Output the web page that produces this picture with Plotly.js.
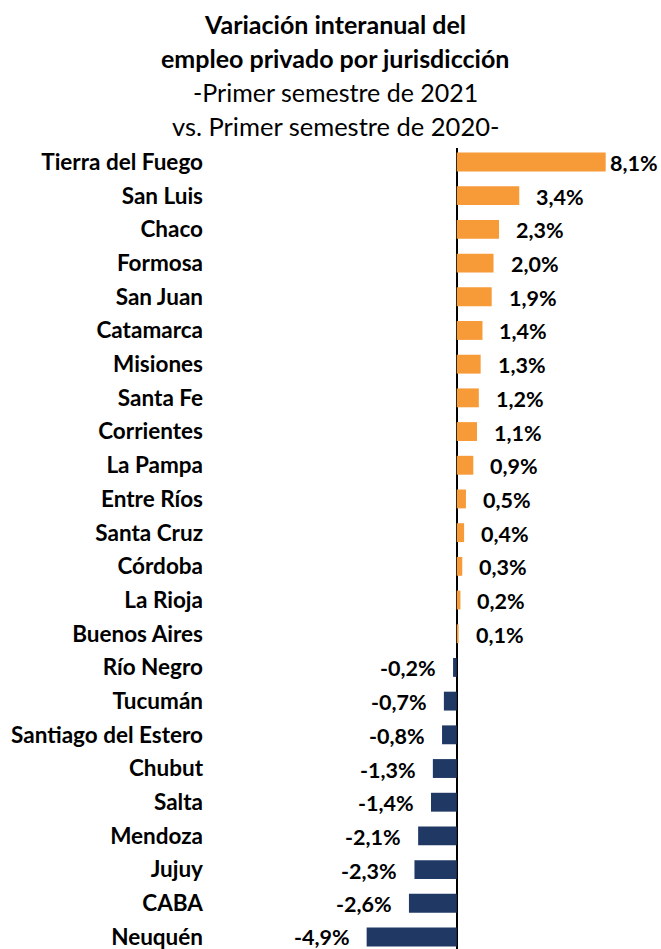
<!DOCTYPE html>
<html><head><meta charset="utf-8">
<script src="https://cdn.plot.ly/plotly-3.0.1.min.js"></script>
<style>body{margin:0;background:#fff}#c{width:661px;height:949px}</style>
</head><body><div id="c"></div>
<script>
const categories = ["Tierra del Fuego","San Luis","Chaco","Formosa","San Juan","Catamarca","Misiones","Santa Fe","Corrientes","La Pampa","Entre Ríos","Santa Cruz","Córdoba","La Rioja","Buenos Aires","Río Negro","Tucumán","Santiago del Estero","Chubut","Salta","Mendoza","Jujuy","CABA","Neuquén"];
const values = [8.1,3.4,2.3,2.0,1.9,1.4,1.3,1.2,1.1,0.9,0.5,0.4,0.3,0.2,0.1,-0.2,-0.7,-0.8,-1.3,-1.4,-2.1,-2.3,-2.6,-4.9];
const titleLines = ["<b>Variación interanual del</b>","<b>empleo privado por jurisdicción</b>","-Primer semestre de 2021","vs. Primer semestre de 2020-"];

const FONT = "Lato, 'Open Sans', sans-serif";
const fmt = v => v.toFixed(1).replace('.', ',') + '%';
const colors = values.map(v => v >= 0 ? '#F79A38' : '#203864');

const annotations = values.map((v, i) => ({
  x: v, y: categories[i], xref: 'x', yref: 'y',
  text: '<b>' + fmt(v) + '</b>', showarrow: false,
  xanchor: v >= 0 ? 'left' : 'right',
  xshift: v >= 0 ? (v > 7 ? 2 : 15) : -15,
  yshift: i === values.length - 1 ? 0 : -1,
  font: {family: FONT, size: 21.5, color: '#000'}
}));
const tys = [24, 58, 92, 126];
const tsz = [25, 25, 25, 25.5];
titleLines.forEach((t, i) => annotations.push({
  x: 335, y: tys[i], xref: 'paper', yref: 'paper', text: t, showarrow: false,
  font: {family: FONT, size: tsz[i], color: '#000'}, xanchor: 'center', yanchor: 'middle'
}));
const H = 949, T = 148, B = 0, L = 210, R = 2;
annotations.forEach(a => {
  if (a.xref === 'paper') {
    a.x = (a.x - L) / (661 - L - R);
    a.y = 1 + (T - a.y) / (H - T - B);
  }
});

Plotly.newPlot('c', [{
  type: 'bar', orientation: 'h', x: values, y: categories,
  marker: {color: colors}, width: 0.56, hoverinfo: 'none'
}], {
  width: 661, height: 949,
  margin: {l: L, r: R, t: T, b: B},
  paper_bgcolor: '#fff', plot_bgcolor: '#fff',
  showlegend: false,
  xaxis: {range: [-13.42, 11], showgrid: false, showticklabels: false, ticks: '',
          zeroline: true, zerolinecolor: '#000', zerolinewidth: 1.5},
  yaxis: {type: 'category', range: [23.356, -0.415], showgrid: false, ticks: '',
          tickfont: {family: FONT, size: 22.5, color: '#000', weight: 'bold'},
          ticklabelstandoff: 6},
  annotations: annotations
}, {staticPlot: true});
</script></body></html>
